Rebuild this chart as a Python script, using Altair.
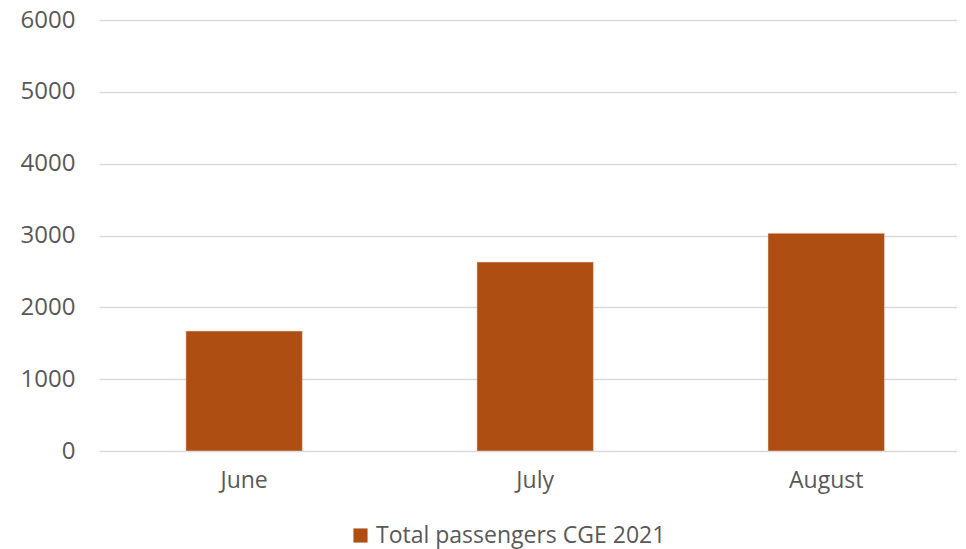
import altair as alt
import pandas as pd

months = ["June", "July", "August"]
passengers = [1670, 2630, 3030]
series_name = "Total passengers CGE 2021"

df = pd.DataFrame({"month": months, "value": passengers, "series": [series_name] * 3})

FONT = "Open Sans"
TXT = "#595959"

chart = alt.Chart(df).mark_bar(stroke="#f2d9c9", strokeWidth=0.5).encode(
    x=alt.X("month:N", sort=months, title=None,
            scale=alt.Scale(paddingInner=0.6, paddingOuter=0.274, align=0.545),
            axis=alt.Axis(labelAngle=0, ticks=False, domain=False, grid=False, labelFontSize=23,
                          labelColor=TXT, labelFont=FONT, labelPadding=18)),
    y=alt.Y("value:Q", title=None,
            scale=alt.Scale(domain=[0, 6000], nice=False),
            axis=alt.Axis(values=[0, 1000, 2000, 3000, 4000, 5000, 6000], format="d",
                          ticks=False, domain=False, labelFontSize=24, labelColor=TXT,
                          labelFont=FONT, labelPadding=24, gridColor="#D9D9D9",
                          gridWidth=1.5)),
    fill=alt.Fill("series:N", scale=alt.Scale(range=["#AE4E13"]),
                  legend=alt.Legend(title=None, orient="none", legendX=250, legendY=504,
                                    symbolType="square", symbolSize=200,
                                    symbolStrokeWidth=0, labelFontSize=23,
                                    labelColor=TXT, labelFont=FONT, labelOffset=4,
                                    labelLimit=0, padding=0)),
).properties(
    width=858, height=431, background="white",
    padding={"left": 12, "top": 0, "right": 0, "bottom": 2},
).configure_view(stroke=None)

chart.save("out.html", embed_options={"renderer": "svg", "actions": False})
